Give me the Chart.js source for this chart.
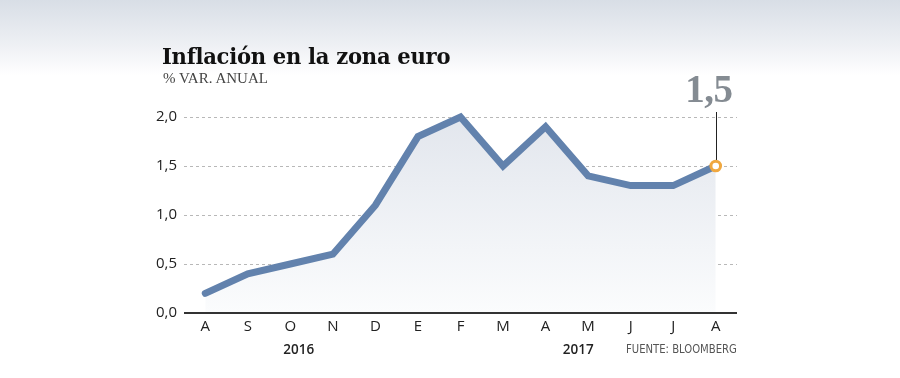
<!DOCTYPE html>
<html>
<head>
<meta charset="utf-8">
<script src="https://cdn.jsdelivr.net/npm/chart.js@4"></script>
<style>
html,body{margin:0;padding:0;}
body{width:900px;height:378px;position:relative;overflow:hidden;
 background:linear-gradient(to bottom,#d8dee6 0px,#eef0f4 45px,#ffffff 75px,#ffffff 378px);}
#wrap{position:absolute;left:0;top:0;width:900px;height:378px;}
.t{position:absolute;white-space:nowrap;}
#title{left:162px;top:43px;font-family:"DejaVu Serif",serif;font-weight:bold;font-size:22px;color:#111;letter-spacing:-0.3px;transform:scaleX(0.96);transform-origin:left top;}
#sub{left:163px;top:70px;font-family:"Liberation Serif",serif;font-size:15px;color:#444;}
.yr{top:340px;font-family:"Open Sans",sans-serif;font-weight:600;font-size:13.5px;color:#222;}
#src{left:626px;top:341px;font-family:"DejaVu Sans",sans-serif;font-stretch:condensed;font-size:12.5px;color:#555;transform-origin:left top;}
#ann{font-family:"Liberation Serif",serif;font-weight:bold;font-size:39px;color:#848b92;letter-spacing:-0.5px;}
</style>
</head>
<body>
<div id="wrap"><canvas id="c" width="900" height="378"></canvas></div>
<div class="t" id="title">Inflación en la zona euro</div>
<div class="t" id="sub">% VAR. ANUAL</div>
<div class="t yr" id="y2016">2016</div>
<div class="t yr" id="y2017">2017</div>
<div class="t" id="src">FUENTE: BLOOMBERG</div>
<div class="t" id="ann">1,5</div>
<script>
const months = ["A","S","O","N","D","E","F","M","A","M","J","J","A"];
const inflation = [0.2,0.4,0.5,0.6,1.1,1.8,2.0,1.5,1.9,1.4,1.3,1.3,1.5];
const yTicks = [0,0.5,1.0,1.5,2.0];
const years = [{label:"2016", at:2.2},{label:"2017", at:8.77}];
const lastLabel = "1,5";

const fmt = v => v.toFixed(1).replace(".", ",");

const src = document.getElementById("src");
src.style.transform = "scaleX(" + (111/src.offsetWidth) + ")";

const annotate = {
  id:"annotate",
  afterDatasetsDraw(chart){
    const ctx = chart.ctx;
    const ca = chart.chartArea;
    ctx.save();
    ctx.strokeStyle="#333";ctx.lineWidth=2;
    ctx.beginPath();ctx.moveTo(ca.left,ca.bottom);ctx.lineTo(ca.right,ca.bottom);ctx.stroke();
    const meta = chart.getDatasetMeta(0);
    const last = meta.data[meta.data.length-1];
    ctx.strokeStyle="#222";ctx.lineWidth=1;
    ctx.beginPath();
    ctx.moveTo(Math.round(last.x)+0.5, 112);
    ctx.lineTo(Math.round(last.x)+0.5, last.y-6);
    ctx.stroke();
    ctx.fillStyle="#fff";ctx.strokeStyle="#f0a840";ctx.lineWidth=3;
    ctx.beginPath();ctx.arc(last.x,last.y,4.8,0,Math.PI*2);ctx.fill();ctx.stroke();
    ctx.restore();
  },
  afterRender(chart){
    const xs = chart.scales.x;
    const meta = chart.getDatasetMeta(0);
    const last = meta.data[meta.data.length-1];
    const ann = document.getElementById("ann");
    ann.textContent = lastLabel;
    ann.style.left = (last.x - 7 - ann.offsetWidth/2) + "px";
    ann.style.top = "66px";
    years.forEach((y,i)=>{
      const el = document.getElementById(i===0?"y2016":"y2017");
      el.textContent = y.label;
      el.style.left = (xs.getPixelForValue(y.at) - el.offsetWidth/2) + "px";
    });
  }
};

new Chart(document.getElementById("c"), {
  type:"line",
  data:{labels:months, datasets:[{
    data:inflation,
    borderColor:"#6282ad",
    borderWidth:7,
    borderJoinStyle:"miter",
    borderCapStyle:"round",
    tension:0,
    pointRadius:0,
    clip:false,
    fill:"origin",
    backgroundColor:(c)=>{
      const ca=c.chart.chartArea; if(!ca) return "#eef1f5";
      const g=c.chart.ctx.createLinearGradient(0,ca.top,0,ca.bottom);
      g.addColorStop(0,"#e2e6ed");g.addColorStop(1,"#fbfcfd");return g;
    }
  }]},
  options:{
    responsive:false, animation:false, devicePixelRatio:1,
    layout:{padding:{left:0,top:117,right:163,bottom:35}},
    plugins:{legend:{display:false},tooltip:{enabled:false}},
    scales:{
      x:{
        offset:true,
        grid:{display:false,drawTicks:false},
        border:{display:false},
        ticks:{padding:5,color:"#222",font:{family:"Open Sans",size:15}},
        afterFit(s){s.height=30;}
      },
      y:{
        min:0,max:2,
        afterBuildTicks(s){s.ticks=yTicks.map(v=>({value:v}));},
        grid:{drawTicks:false,color:c=>c.tick&&c.tick.value===0?"rgba(0,0,0,0)":"#b8b8b8",lineWidth:1},
        border:{display:false,dash:[3,3]},
        ticks:{padding:7,color:"#222",font:{family:"Open Sans",size:15},callback:v=>fmt(v)},
        afterFit(s){s.width=184;}
      }
    }
  },
  plugins:[annotate]
});
</script>
</body>
</html>
